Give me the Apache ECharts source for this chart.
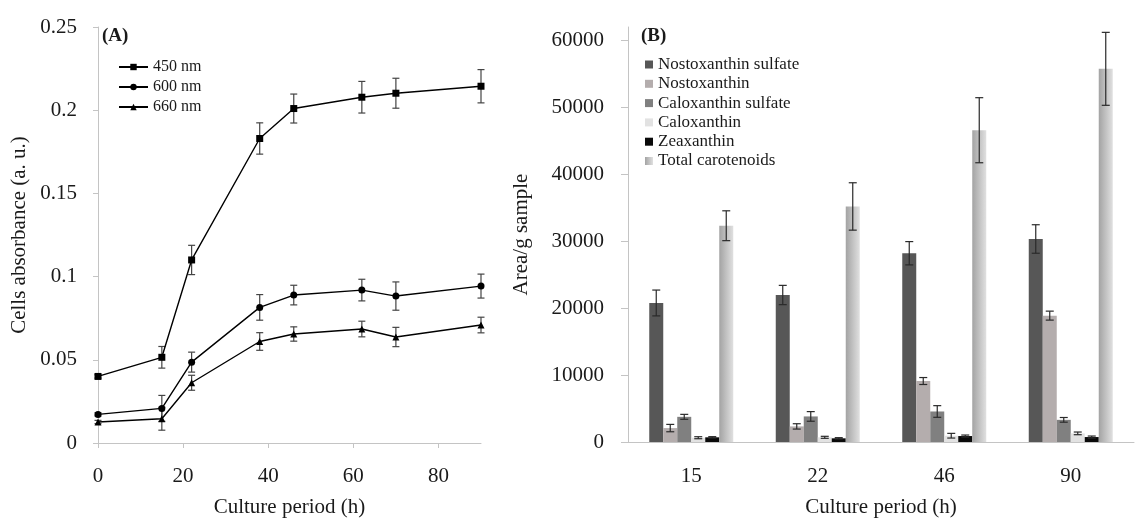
<!DOCTYPE html>
<html>
<head>
<meta charset="utf-8">
<script src="https://cdn.jsdelivr.net/npm/echarts@6/dist/echarts.min.js"></script>
<style>
  html, body { margin: 0; padding: 0; background: #fff; }
  #chart { width: 1140px; height: 523px; }
</style>
</head>
<body>
<div id="chart"></div>
<script>
// (A) cell absorbance over culture time
const hours = [0, 15, 22, 38, 46, 62, 70, 90];
const abs450 = [0.040, 0.0515, 0.110, 0.183, 0.201, 0.2078, 0.2102, 0.2144];
const err450 = [0.001, 0.0065, 0.0088, 0.0094, 0.0087, 0.0095, 0.009, 0.010];
const abs600 = [0.0172, 0.0208, 0.0486, 0.0815, 0.0889, 0.0919, 0.0883, 0.0943];
const err600 = [0.001, 0.0078, 0.006, 0.0077, 0.0059, 0.0065, 0.0085, 0.0072];
const abs660 = [0.0126, 0.0146, 0.0362, 0.061, 0.0655, 0.0685, 0.0637, 0.0709];
const err660 = [0.001, 0.0069, 0.0045, 0.0053, 0.0043, 0.0047, 0.0058, 0.0047];
const leftXTicks = [0, 20, 40, 60, 80];

// (B) carotenoid areas per culture period
const periods = ['15', '22', '46', '90'];
const nostoxSulf = [20770, 21960, 28200, 30330];
const nostoxSulfErr = [1930, 1440, 1740, 2130];
const nostox = [2080, 2330, 9110, 18880];
const nostoxErr = [550, 400, 520, 670];
const caloxSulf = [3760, 3820, 4560, 3310];
const caloxSulfErr = [370, 720, 870, 350];
const calox = [640, 700, 940, 1290];
const caloxErr = [150, 150, 350, 200];
const zeax = [700, 550, 890, 740];
const zeaxErr = [100, 100, 150, 150];
const total = [32310, 35190, 46580, 55750];
const totalErr = [2230, 3540, 4860, 5450];
const rightYTicks = [0, 10000, 20000, 30000, 40000, 50000, 60000];

const FONT = 'Liberation Serif';
const TXT = '#1a1a1a';
const AXIS = '#c4c4c4';
const BAR_W = 14;

const chart = echarts.init(document.getElementById('chart'));

function pairs(xs, ys, es) {
    return xs.map((x, i) => es ? [x, ys[i], es[i]] : [x, ys[i]]);
}

// vertical error bar with caps, shifted sideways by offset px
function errorBar(offset, color, cap) {
    return function (params, api) {
        const x = api.value(0), y = api.value(1), e = api.value(2);
        const hi = api.coord([x, y + e]);
        const lo = api.coord([x, y - e]);
        const cx = hi[0] + offset;
        const st = { stroke: color, lineWidth: 1.2 };
        return {
            type: 'group',
            children: [
                { type: 'line', shape: { x1: cx, y1: hi[1], x2: cx, y2: lo[1] }, style: st },
                { type: 'line', shape: { x1: cx - cap, y1: hi[1], x2: cx + cap, y2: hi[1] }, style: st },
                { type: 'line', shape: { x1: cx - cap, y1: lo[1], x2: cx + cap, y2: lo[1] }, style: st }
            ]
        };
    };
}

const lineSets = [
    { name: '450 nm', data: abs450, err: err450, symbol: 'rect', size: 7 },
    { name: '600 nm', data: abs600, err: err600, symbol: 'circle', size: 7 },
    { name: '660 nm', data: abs660, err: err660, symbol: 'triangle', size: 7 }
];

const barSets = [
    { name: 'Nostoxanthin sulfate', data: nostoxSulf, err: nostoxSulfErr, color: '#575757' },
    { name: 'Nostoxanthin', data: nostox, err: nostoxErr, color: '#b4adad' },
    { name: 'Caloxanthin sulfate', data: caloxSulf, err: caloxSulfErr, color: '#808080' },
    { name: 'Caloxanthin', data: calox, err: caloxErr, color: '#e2e2e2' },
    { name: 'Zeaxanthin', data: zeax, err: zeaxErr, color: '#0a0a0a' },
    {
        name: 'Total carotenoids', data: total, err: totalErr,
        color: new echarts.graphic.LinearGradient(0, 0, 1, 0, [
            { offset: 0, color: '#a3a3a3' },
            { offset: 1, color: '#e0e0e0' }
        ])
    }
];

const series = [];
lineSets.forEach(s => {
    series.push({
        name: s.name, type: 'line', xAxisIndex: 0, yAxisIndex: 0,
        data: pairs(hours, s.data), symbol: s.symbol, symbolSize: s.size,
        lineStyle: { color: '#000', width: 1.4 }, itemStyle: { color: '#000' },
        z: 3
    });
    series.push({
        type: 'custom', xAxisIndex: 0, yAxisIndex: 0,
        data: pairs(hours, s.data, s.err),
        renderItem: errorBar(0, '#444', 3.5), z: 2
    });
});
barSets.forEach((s, k) => {
    series.push({
        name: s.name, type: 'bar', xAxisIndex: 1, yAxisIndex: 1,
        data: s.data, barWidth: BAR_W, barGap: '0%',
        itemStyle: { color: s.color }
    });
    series.push({
        type: 'custom', xAxisIndex: 1, yAxisIndex: 1,
        data: pairs(periods.map((p, i) => i), s.data, s.err),
        renderItem: errorBar((k - 2.5) * BAR_W, '#2a2a2a', 4), z: 5
    });
});

const axisText = { fontFamily: FONT, fontSize: 21, color: TXT };
const titleText = { fontFamily: FONT, fontSize: 19, fontWeight: 'bold', color: TXT };

chart.setOption({
    animation: false,
    backgroundColor: '#fff',
    title: [
        { text: '(A)', left: 102, top: 27, padding: 0, textStyle: titleText },
        { text: '(B)', left: 641, top: 27, padding: 0, textStyle: titleText }
    ],
    legend: [
        {
            data: lineSets.map(s => s.name), orient: 'vertical', left: 118, top: 59, padding: 0,
            itemWidth: 29, itemHeight: 8, itemGap: 4,
            textStyle: { fontFamily: FONT, fontSize: 16, lineHeight: 16, color: TXT }
        },
        {
            data: barSets.map(s => s.name), orient: 'vertical', left: 645, top: 56, padding: 0,
            icon: 'rect', itemWidth: 8, itemHeight: 8, itemGap: 2.3,
            textStyle: { fontFamily: FONT, fontSize: 17, lineHeight: 17, color: TXT }
        }
    ],
    grid: [
        { left: 98, top: 27, width: 383, height: 417 },
        { left: 628, top: 27, width: 506, height: 417 }
    ],
    xAxis: [
        {
            type: 'value', gridIndex: 0, min: 0, max: 90,
            name: 'Culture period (h)', nameLocation: 'middle', nameGap: 54, nameTextStyle: axisText,
            axisLine: { lineStyle: { color: AXIS } },
            axisTick: { show: true, length: 5, lineStyle: { color: AXIS }, customValues: leftXTicks },
            axisLabel: Object.assign({ margin: 23, customValues: leftXTicks }, axisText),
            splitLine: { show: false }
        },
        {
            type: 'category', gridIndex: 1, data: periods,
            name: 'Culture period (h)', nameLocation: 'middle', nameGap: 55, nameTextStyle: axisText,
            axisLine: { lineStyle: { color: AXIS } },
            axisTick: { show: false },
            axisLabel: Object.assign({ margin: 24 }, axisText)
        }
    ],
    yAxis: [
        {
            type: 'value', gridIndex: 0, min: 0, max: 0.25, interval: 0.05,
            name: 'Cells absorbance (a. u.)', nameLocation: 'middle', nameGap: 68, nameTextStyle: axisText,
            axisLine: { show: true, lineStyle: { color: AXIS } },
            axisTick: { show: true, length: 5, lineStyle: { color: AXIS } },
            axisLabel: Object.assign({ margin: 21 }, axisText),
            splitLine: { show: false }
        },
        {
            type: 'value', gridIndex: 1, min: 0, max: 62000,
            name: 'Area/g sample', nameLocation: 'middle', nameGap: 96, nameTextStyle: axisText,
            axisLine: { show: true, lineStyle: { color: AXIS } },
            axisTick: { show: true, length: 7, lineStyle: { color: AXIS }, customValues: rightYTicks },
            axisLabel: Object.assign({ margin: 24, customValues: rightYTicks, formatter: v => String(v) }, axisText),
            splitLine: { show: false }
        }
    ],
    series: series
});
</script>
</body>
</html>
